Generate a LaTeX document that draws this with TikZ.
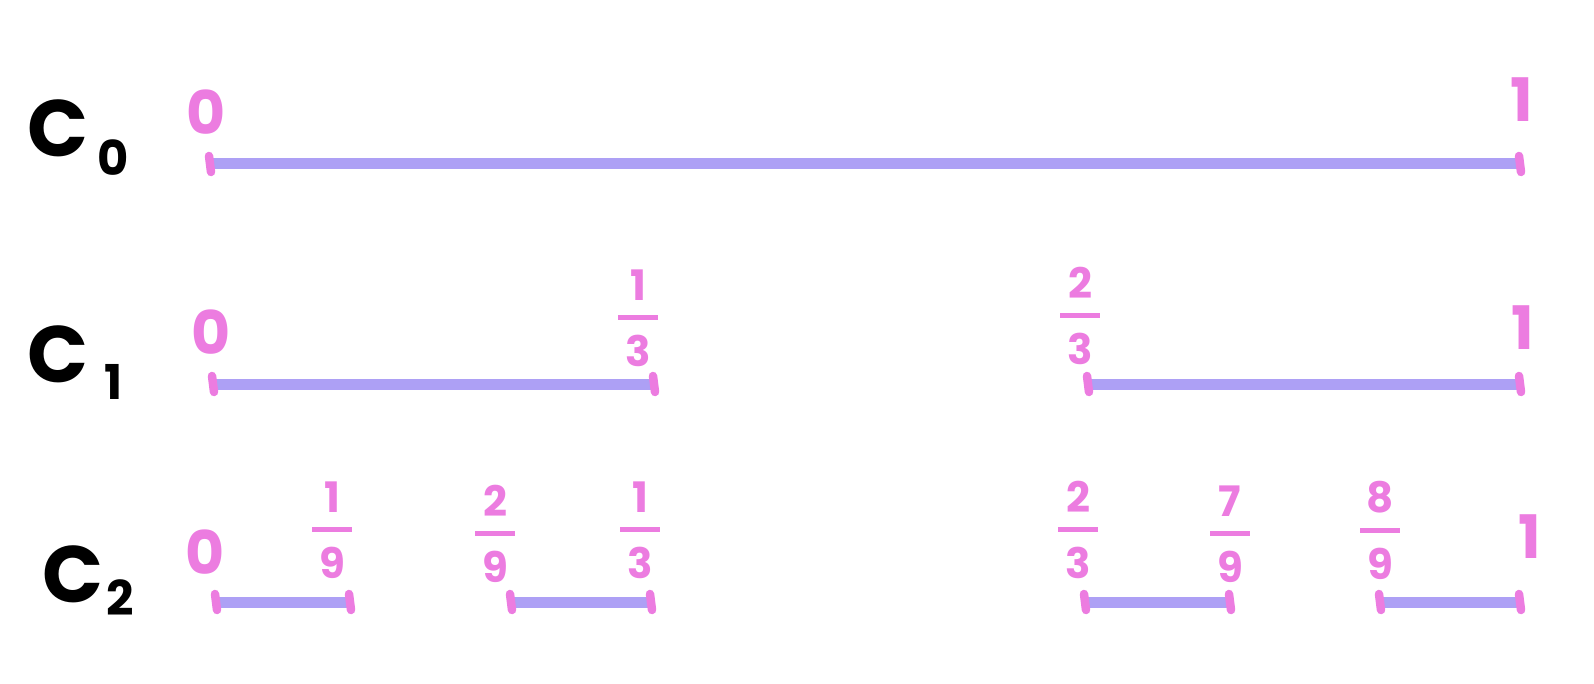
\documentclass[tikz,border=0pt]{standalone}
\usepackage{amsmath}
\usepackage{fontspec}
\setmainfont{Poppins}
\definecolor{seg}{RGB}{173,160,245}
\definecolor{pk}{RGB}{236,124,224}
\newcommand{\myfr}[2]{$\genfrac{}{}{5pt}{0}{\mbox{\makebox[40pt]{#1}}}{\mbox{#2}}$}
\tikzset{
  segline/.style={line width=11pt, seg},
  tick/.style={line width=8.5pt, pk, line cap=round},
  bigC/.style={font=\fontsize{80}{80}\selectfont\bfseries, text=black, inner sep=0pt},
  subC/.style={font=\fontsize{48}{48}\selectfont\bfseries, text=black, inner sep=0pt},
  lab/.style={font=\fontsize{60}{60}\selectfont\bfseries, text=pk, inner sep=0pt},
  flab/.style={font=\fontsize{42}{42}\selectfont\bfseries, text=pk, inner sep=0pt},
}
\newcommand{\seg}[4]{%
  \coordinate (#1) at (#2,#4);
  \coordinate (#1e) at (#3,#4);
  \draw[segline] (#1) -- (#1e);
  \draw[tick] ([shift={(-1,-8)}]#1) -- ([shift={(1,8)}]#1);
  \draw[tick] ([shift={(-1,-8)}]#1e) -- ([shift={(1,8)}]#1e);
}
\begin{document}
\begin{tikzpicture}[x=1pt,y=-1pt]
\useasboundingbox (0,0) rectangle (1594,684);
% row labels
\node[bigC] (c0) at (58,128) {C};
\node[subC] (c0s) at (113,158) {0};
\node[bigC] (c1) at (58,354) {C};
\node[subC] (c1s) at (114,382) {1};
\node[bigC] (c2) at (73,574) {C};
\node[subC] (c2s) at (120,598) {2};
% C0
\seg{s0}{210}{1520}{164}
\node[lab] (l00) at (206,112) {0};
\node[lab] (l01) at (1522,100) {1};
% C1
\seg{s1a}{213}{654}{384}
\seg{s1b}{1088}{1520}{384}
\node[lab] (l10) at (211,332) {0};
\node[flab] (l1a) at (638,318) {\myfr{1}{3}};
\node[flab] (l1b) at (1080,316) {\myfr{2}{3}};
\node[lab] (l11) at (1523,328) {1};
% C2
\seg{s2a}{216}{350}{602}
\seg{s2b}{511}{651}{602}
\seg{s2c}{1085}{1230}{602}
\seg{s2d}{1380}{1520}{602}
\node[lab] (l20) at (205,552) {0};
\node[flab] (l2a) at (332,530) {\myfr{1}{9}};
\node[flab] (l2b) at (495,534) {\myfr{2}{9}};
\node[flab] (l2c) at (640,530) {\myfr{1}{3}};
\node[flab] (l2d) at (1078,530) {\myfr{2}{3}};
\node[flab] (l2e) at (1230,534) {\myfr{7}{9}};
\node[flab] (l2f) at (1380,530) {\myfr{8}{9}};
\node[lab] (l21) at (1530,537) {1};
\end{tikzpicture}
\end{document}
